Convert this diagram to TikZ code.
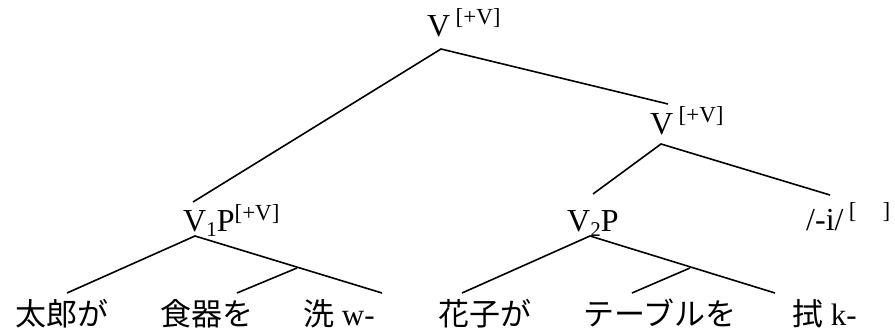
\documentclass[tikz,border=0pt]{standalone}
\usepackage{fontspec}
\setmainfont{Liberation Serif}
\newfontfamily\jp{Noto Sans CJK JP}
\newfontfamily\lat{Liberation Serif}
\newcommand{\feat}[1]{\raisebox{12pt}{\fontsize{23}{23}\selectfont #1}}
\newcommand{\idx}[1]{\raisebox{-5pt}{\fontsize{21}{21}\selectfont #1}}
\begin{document}
\begin{tikzpicture}[x=1pt,y=-1pt,
  lab/.style={anchor=base west,inner sep=0pt,font=\fontsize{32}{36}\selectfont},
  word/.style={anchor=base west,inner sep=0pt,font=\fontsize{31}{36}\selectfont\jp},
  branch/.style={line width=1.6pt}]
  \useasboundingbox (0,0) rectangle (895,334);
  % labels
  \node[lab] (vtop) at (427,37) {V\,\feat{[+V]}};
  \node[lab] (vmid) at (650,135) {V\,\feat{[+V]}};
  \node[lab] (v1p) at (183,232) {V\idx{1}P\feat{[+V]}};
  \node[lab] (v2p) at (567,232) {V\idx{2}P};
  \node[lab] (affix) at (806,230) {/-i/\,\feat{[\hspace{26pt}]}};
  \node[word] (w1) at (15,325) {太郎が};
  \node[word] (w2) at (160,325) {食器を};
  \node[word] (w3) at (303,325) {洗\lat{} w-};
  \node[word] (w4) at (438,325) {花子が};
  \node[word] (w5) at (583,325) {テーブルを};
  \node[word] (w6) at (792,325) {拭\lat{} k-};
  % branch points
  \coordinate (vtop-b) at (441,49);
  \coordinate (vmid-t) at (668,104);
  \coordinate (vmid-b) at (661,144);
  \coordinate (v1p-t) at (193,202);
  \coordinate (v1p-b) at (195,236);
  \coordinate (v1p-j) at (297,268);
  \coordinate (v2p-t) at (593,194);
  \coordinate (v2p-b) at (590,236);
  \coordinate (v2p-j) at (690,268);
  \coordinate (affix-t) at (830,195);
  \coordinate (w1-t) at (67,293);
  \coordinate (w2-t) at (237,293);
  \coordinate (w3-t) at (382,293);
  \coordinate (w4-t) at (462,293);
  \coordinate (w5-t) at (632,293);
  \coordinate (w6-t) at (775,293);
  % tree
  \draw[branch] (v1p-t) -- (vtop-b) -- (vmid-t);
  \draw[branch] (v2p-t) -- (vmid-b) -- (affix-t);
  \draw[branch] (w1-t) -- (v1p-b) -- (w3-t);
  \draw[branch] (w2-t) -- (v1p-j);
  \draw[branch] (w4-t) -- (v2p-b) -- (w6-t);
  \draw[branch] (w5-t) -- (v2p-j);
\end{tikzpicture}
\end{document}
